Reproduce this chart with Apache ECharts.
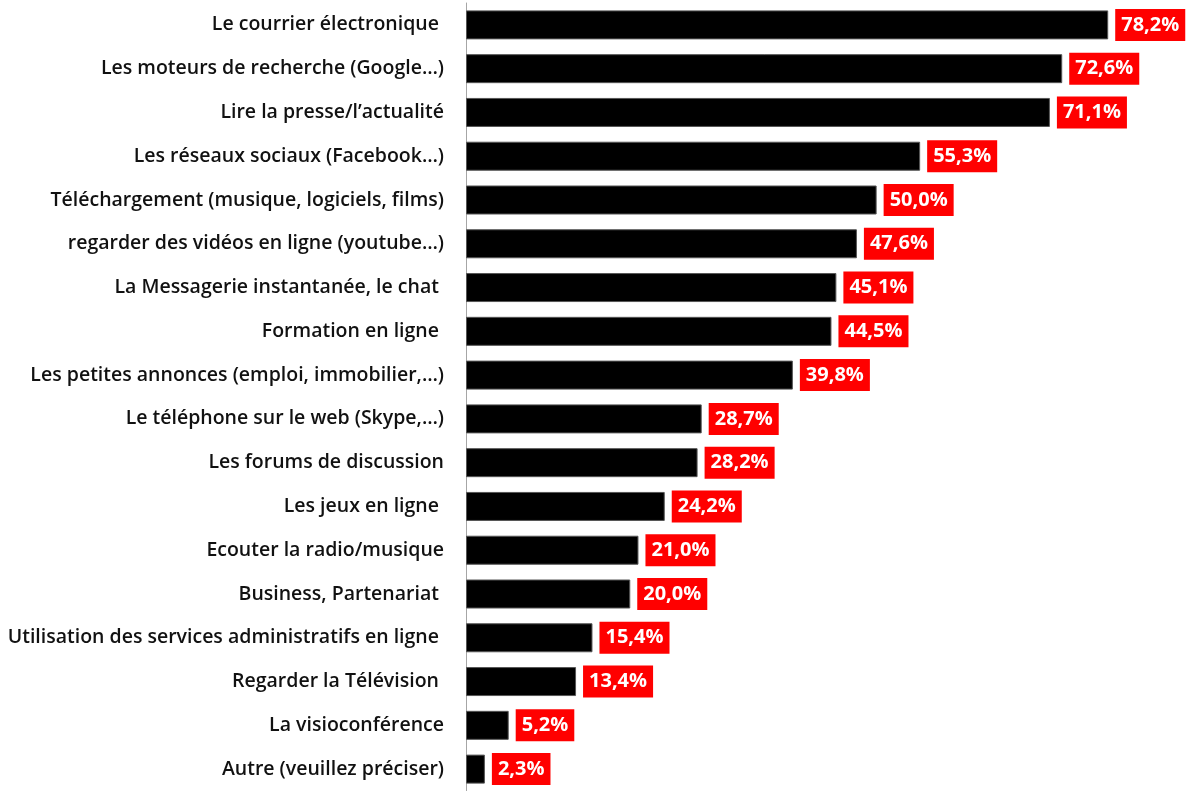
<!DOCTYPE html>
<html>
<head>
<meta charset="utf-8">
<script src="https://cdn.jsdelivr.net/npm/echarts@6/dist/echarts.min.js"></script>
<style>
  html, body { margin: 0; padding: 0; background: #fff; }
  #chart { width: 1193px; height: 791px; }
</style>
</head>
<body>
<div id="chart"></div>
<script>
// categories, top to bottom
const categories = [
  'Le courrier électronique ',
  'Les moteurs de recherche (Google…)',
  'Lire la presse/l’actualité',
  'Les réseaux sociaux (Facebook…)',
  'Téléchargement (musique, logiciels, films)',
  'regarder des vidéos en ligne (youtube…)',
  'La Messagerie instantanée, le chat ',
  'Formation en ligne ',
  'Les petites annonces (emploi, immobilier,…)',
  'Le téléphone sur le web (Skype,…)',
  'Les forums de discussion',
  'Les jeux en ligne ',
  'Ecouter la radio/musique',
  'Business, Partenariat ',
  'Utilisation des services administratifs en ligne ',
  'Regarder la Télévision ',
  'La visioconférence',
  'Autre (veuillez préciser)'
];
const values = [78.2, 72.6, 71.1, 55.3, 50.0, 47.6, 45.1, 44.5, 39.8, 28.7, 28.2, 24.2, 21.0, 20.0, 15.4, 13.4, 5.2, 2.3];

const chart = echarts.init(document.getElementById('chart'));
chart.setOption({
  animation: false,
  grid: { left: 466, top: 3, height: 792, width: 657 },
  xAxis: {
    type: 'value',
    min: 0,
    max: 80,
    show: false
  },
  yAxis: {
    type: 'category',
    data: categories,
    inverse: true,
    axisLine: { show: true, lineStyle: { color: '#a6a6a6', width: 1 } },
    axisTick: { show: false },
    axisLabel: {
      margin: 22,
      fontFamily: 'Open Sans',
      fontSize: 19.5,
      fontWeight: 600,
      color: '#111'
    }
  },
  series: [{
    type: 'bar',
    data: values,
    barWidth: 29,
    itemStyle: { color: '#000', borderColor: '#555', borderWidth: 1 },
    label: {
      show: true,
      position: 'right',
      distance: 7,
      formatter: p => p.value.toFixed(1).replace('.', ',') + '%',
      backgroundColor: '#ff0000',
      color: '#fff',
      fontFamily: 'Open Sans',
      fontWeight: 'bold',
      fontSize: 20,
      padding: [6, 6, 6, 6]
    }
  }]
});
</script>
</body>
</html>
